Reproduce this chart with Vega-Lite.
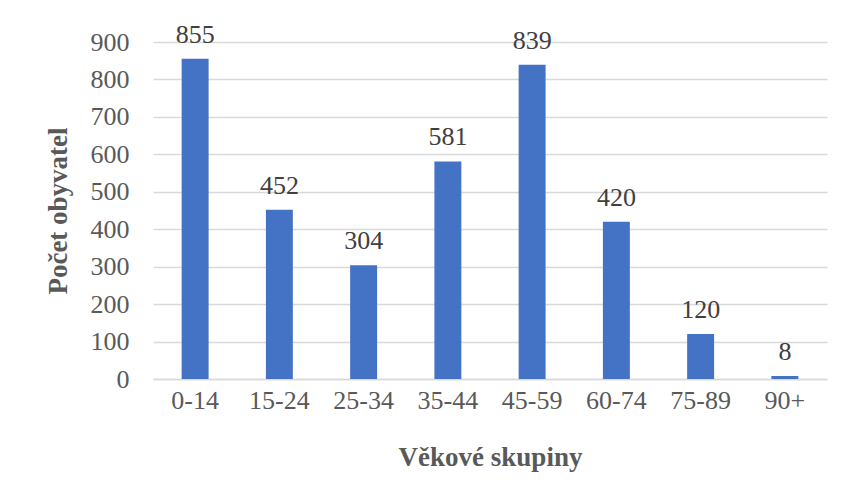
{
  "$schema": "https://vega.github.io/schema/vega-lite/v6.json",
  "autosize": {"type": "none"},
  "width": 674,
  "height": 337,
  "padding": {"left": 153, "top": 42, "right": 20, "bottom": 118},
  "background": "white",
  "config": {
    "view": {"stroke": null},
    "font": "Liberation Serif"
  },
  "data": {
    "values": [
      {"skupina": "0-14", "pocet": 855},
      {"skupina": "15-24", "pocet": 452},
      {"skupina": "25-34", "pocet": 304},
      {"skupina": "35-44", "pocet": 581},
      {"skupina": "45-59", "pocet": 839},
      {"skupina": "60-74", "pocet": 420},
      {"skupina": "75-89", "pocet": 120},
      {"skupina": "90+", "pocet": 8}
    ]
  },
  "encoding": {
    "x": {
      "field": "skupina",
      "type": "nominal",
      "sort": null,
      "title": "Věkové skupiny",
      "scale": {"paddingInner": 0.68, "paddingOuter": 0.34},
      "axis": {
        "labelAngle": 0,
        "labelFont": "Liberation Serif",
        "labelFontWeight": 400,
        "labelFontSize": 26,
        "labelColor": "#595959",
        "labelPadding": 8,
        "ticks": false,
        "domainColor": "#d9d9d9",
        "domainWidth": 1.5,
        "titleFont": "Liberation Serif",
        "titleFontSize": 27,
        "titleFontWeight": "bold",
        "titleColor": "#595959",
        "titlePadding": 31
      }
    },
    "y": {
      "field": "pocet",
      "type": "quantitative",
      "title": "Počet obyvatel",
      "scale": {"domain": [0, 900]},
      "axis": {
        "values": [0, 100, 200, 300, 400, 500, 600, 700, 800, 900],
        "labelFont": "Liberation Serif",
        "labelFontWeight": 400,
        "labelFontSize": 26,
        "labelColor": "#595959",
        "labelPadding": 24,
        "ticks": false,
        "domain": false,
        "gridColor": "#d9d9d9",
        "gridWidth": 1.5,
        "titleFont": "Liberation Serif",
        "titleFontSize": 27,
        "titleFontWeight": "bold",
        "titleColor": "#595959",
        "titlePadding": 18
      }
    }
  },
  "layer": [
    {"mark": {"type": "bar", "color": "#4472c4"}},
    {
      "mark": {"type": "text", "baseline": "bottom", "dy": -11, "fontSize": 26, "fontWeight": 400, "color": "#404040", "font": "Liberation Serif"},
      "encoding": {"text": {"field": "pocet", "type": "quantitative"}}
    }
  ]
}
